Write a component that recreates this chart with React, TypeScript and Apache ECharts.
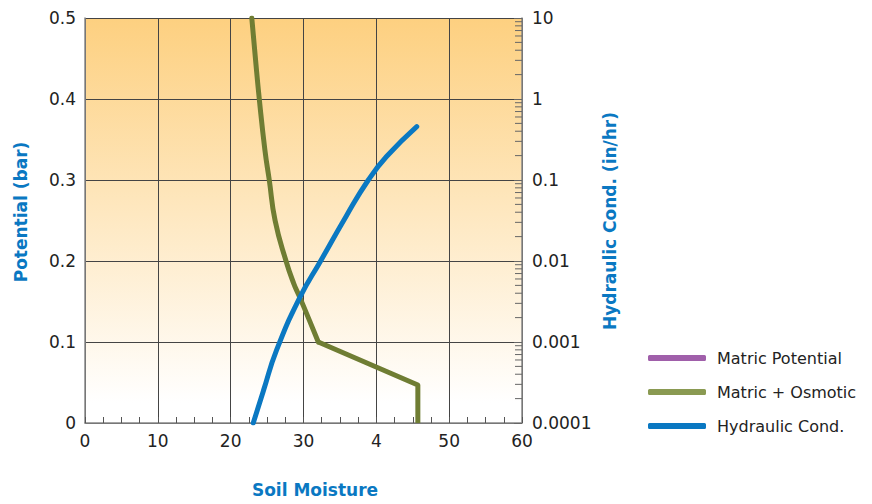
import React, { useEffect, useRef } from "react";
import * as echarts from "echarts";

// ---- data ----
const xTickLabels = ["0", "10", "20", "30", "4", "50", "60"];
const leftTickLabels = ["0", "0.1", "0.2", "0.3", "0.4", "0.5"];
const rightTickLabels = ["0.0001", "0.001", "0.01", "0.1", "1", "10"];
const legendNames = ["Matric Potential", "Matric + Osmotic", "Hydraulic Cond."];

// Matric Potential: not visible in the plot
const matricPotential: number[][] = [];
// Matric + Osmotic [soil moisture, potential (bar)]
const osmoticCurve = [
  [22.9, 0.5], [23.4, 0.45], [23.93, 0.4], [24.7, 0.337], [25.3, 0.3],
  [26.1, 0.25], [27.6, 0.2], [28.65, 0.1725], [29.45, 0.156], [30.8, 0.127], [32.03, 0.1],
];
const osmoticTail = [[32.03, 0.1], [45.7, 0.047], [45.7, 0]];
// Hydraulic conductivity [soil moisture, in/hr]
const hydraulic = [
  [23.1, 0.0001], [24.5, 0.000251], [26.3, 0.000794], [29.5, 0.00355],
  [32.35, 0.01], [35.9, 0.0363], [38.9, 0.1], [41.4, 0.195], [45.55, 0.457],
];
// log-axis minor tick positions (2..9 per decade)
const decades = [0.0001, 0.001, 0.01, 0.1, 1];
const minorMultipliers = [2, 3, 4, 5, 6, 7, 8, 9];

const BLUE = "#0a78c2";
const GREEN = "#6f7d33";
const PURPLE = "#a05faa";

export default function App() {
  const ref = useRef<HTMLDivElement>(null);
  useEffect(() => {
    document.body.style.margin = "0";
    const chart = echarts.init(ref.current!, undefined, { renderer: "svg" });
    const minorTicks: number[][] = [];
    decades.forEach((d) => minorMultipliers.forEach((m) => minorTicks.push([60, d * m])));
    const font = "DejaVu Sans";
    chart.setOption({
      animation: false,
      textStyle: { fontFamily: font },
      grid: {
        left: 85, right: 350, top: 18, bottom: 81,
        show: true,
        borderWidth: 0,
        backgroundColor: {
          type: "linear", x: 0, y: 0, x2: 0, y2: 1,
          colorStops: [
            { offset: 0, color: "#fdd080" },
            { offset: 0.95, color: "#ffffff" },
            { offset: 1, color: "#ffffff" },
          ],
        },
      },
      legend: {
        orient: "vertical",
        left: 643,
        top: 343,
        data: legendNames,
        icon: "roundRect",
        itemWidth: 58,
        itemHeight: 6,
        itemGap: 14,
        textStyle: { fontSize: 16, color: "#222", fontFamily: font, lineHeight: 20, padding: [0, 0, 0, 6] },
      },
      xAxis: {
        type: "value", min: 0, max: 60, interval: 10,
        axisLine: { show: true, lineStyle: { color: "#888", width: 1.5 } },
        axisTick: { show: true, inside: true, length: 6, lineStyle: { color: "#555" } },
        minorTick: { show: true, splitNumber: 4, length: 6, lineStyle: { color: "#555" } },
        splitLine: { show: true, lineStyle: { color: "#444", width: 1 } },
        axisLabel: {
          fontSize: 17, color: "#222", margin: 9,
          formatter: (v: number) => xTickLabels[Math.round(v / 10)] ?? "",
        },
      },
      yAxis: [
        {
          type: "value", min: 0, max: 0.5, interval: 0.1,
          axisLine: { show: true, lineStyle: { color: "#888", width: 1.5 } },
          axisTick: { show: false },
          splitLine: { show: true, lineStyle: { color: "#444", width: 1 } },
          axisLabel: {
            fontSize: 17, color: "#222", margin: 9,
            formatter: (v: number) => leftTickLabels[Math.round(v * 10)] ?? "",
          },
        },
        {
          type: "log", logBase: 10, min: 0.0001, max: 10, splitNumber: 5,
          position: "right",
          axisLine: { show: true, lineStyle: { color: "#888", width: 1.5 } },
          axisTick: { show: true, inside: true, length: 8, lineStyle: { color: "#666" } },
          splitLine: { show: false },
          axisLabel: {
            fontSize: 17, color: "#222", margin: 10,
            formatter: (v: number) => rightTickLabels[Math.round(Math.log10(v)) + 4] ?? "",
          },
        },
      ],
      series: [
        {
          type: "custom", silent: true, xAxisIndex: 0, yAxisIndex: 1, data: minorTicks, z: 1,
          renderItem: (params: any, api: any) => {
            const p = api.coord([api.value(0), api.value(1)]);
            return {
              type: "line",
              shape: { x1: p[0] - 7, y1: p[1], x2: p[0], y2: p[1] },
              style: { stroke: "#666", lineWidth: 1 },
            };
          },
        },
        {
          name: legendNames[0], type: "line", data: matricPotential, showSymbol: false,
          itemStyle: { color: PURPLE }, lineStyle: { color: PURPLE, width: 5, cap: "round" },
        },
        {
          name: legendNames[1], type: "line", data: osmoticCurve, smooth: 0.5,
          showSymbol: false,
          itemStyle: { color: "#8a9a52" }, lineStyle: { color: GREEN, width: 5, cap: "round" }, z: 3,
        },
        {
          name: legendNames[1], type: "line", data: osmoticTail, showSymbol: false,
          itemStyle: { color: "#8a9a52" }, lineStyle: { color: GREEN, width: 5, join: "round" }, z: 3,
        },
        {
          name: legendNames[2], type: "line", yAxisIndex: 1, data: hydraulic, smooth: 0.5,
          showSymbol: false,
          itemStyle: { color: BLUE }, lineStyle: { color: BLUE, width: 5, cap: "round" }, z: 4,
        },
      ],
      graphic: [
        {
          type: "text", x: 21, y: 212, rotation: Math.PI / 2,
          style: { text: "Potential (bar)", fill: BLUE, font: `bold 17px "${font}"`, align: "center", verticalAlign: "middle" },
        },
        {
          type: "text", x: 610, y: 221, rotation: Math.PI / 2,
          style: { text: "Hydraulic Cond. (in/hr)", fill: BLUE, font: `bold 17px "${font}"`, align: "center", verticalAlign: "middle" },
        },
        {
          type: "text", x: 315, y: 490,
          style: { text: "Soil Moisture", fill: BLUE, font: `bold 17px "${font}"`, align: "center", verticalAlign: "middle" },
        },
      ],
    });
    return () => chart.dispose();
  }, []);
  return <div ref={ref} style={{ width: 872, height: 504 }} />;
}
